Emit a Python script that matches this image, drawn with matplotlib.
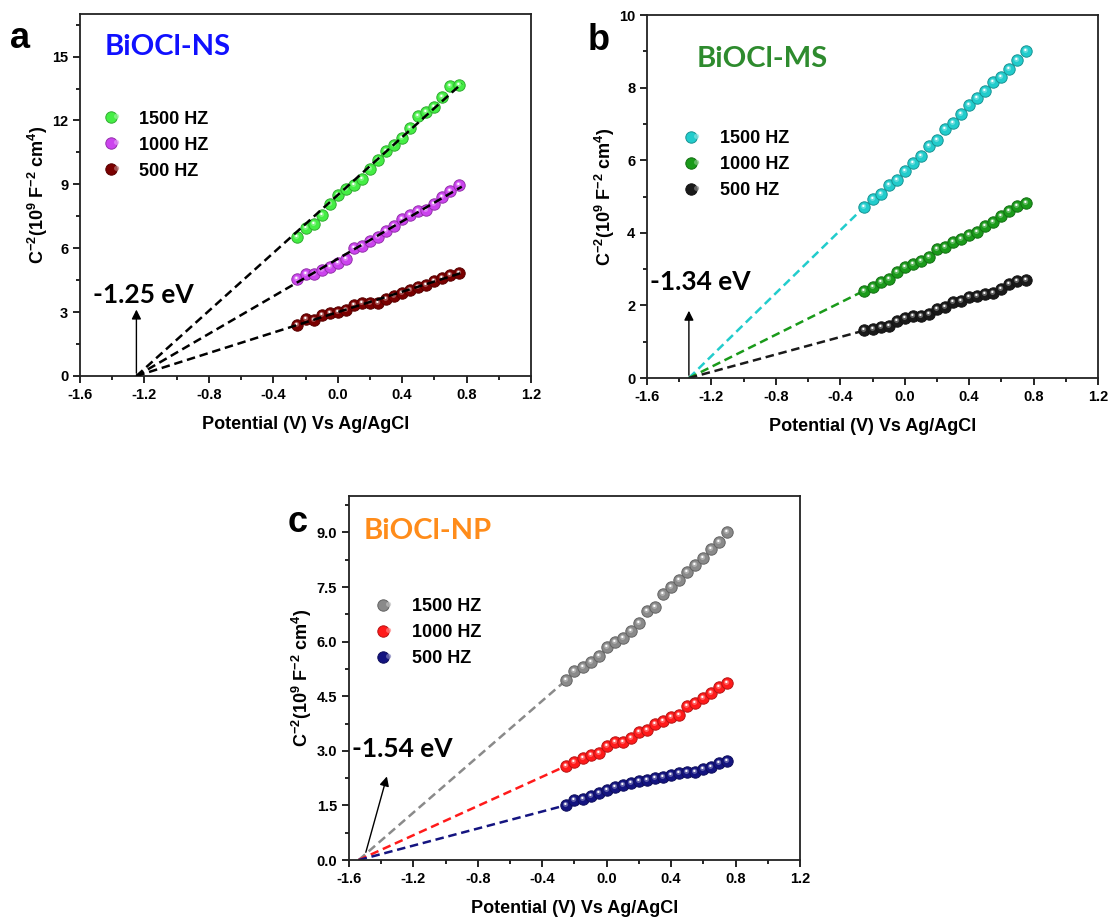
import numpy as np
import matplotlib
matplotlib.use("Agg")
import matplotlib.pyplot as plt
from matplotlib.markers import MarkerStyle
from matplotlib.transforms import Affine2D
from matplotlib.legend_handler import HandlerTuple
from matplotlib.ticker import MultipleLocator, FormatStrFormatter
from matplotlib import colors as mcolors

plt.rcParams['font.family'] = ['Liberation Sans', 'DejaVu Sans']
plt.rcParams['font.weight'] = 'bold'
plt.rcParams['axes.labelweight'] = 'bold'
plt.rcParams['axes.unicode_minus'] = False
plt.rcParams['mathtext.fontset'] = 'custom'
plt.rcParams['mathtext.rm'] = 'Liberation Sans:bold'
plt.rcParams['mathtext.bf'] = 'Liberation Sans:bold'
plt.rcParams['mathtext.it'] = 'Liberation Sans:bold'
plt.rcParams['mathtext.default'] = 'bf'

# potential (V vs Ag/AgCl) of the measured points, same for every curve
potential = [-0.25, -0.20, -0.15, -0.10, -0.05, 0.00, 0.05, 0.10, 0.15, 0.20, 0.25,
             0.30, 0.35, 0.40, 0.45, 0.50, 0.55, 0.60, 0.65, 0.70, 0.75]
freq_labels = ['1500 HZ', '1000 HZ', '500 HZ']

# BiOCl-NS, C^-2 in 1e9 F^-2 cm^4
ns_1500 = [6.55, 6.95, 7.15, 7.58, 8.10, 8.49, 8.77, 8.99, 9.27, 9.74, 10.16,
           10.55, 10.83, 11.17, 11.67, 12.20, 12.39, 12.63, 13.08, 13.60, 13.68]
ns_1000 = [4.55, 4.78, 4.81, 5.00, 5.12, 5.31, 5.51, 6.03, 6.09, 6.34, 6.55,
           6.83, 7.05, 7.35, 7.55, 7.73, 7.80, 8.10, 8.40, 8.69, 8.95]
ns_500 = [2.39, 2.66, 2.62, 2.86, 2.97, 3.02, 3.10, 3.34, 3.42, 3.45, 3.42,
          3.63, 3.75, 3.90, 4.05, 4.16, 4.28, 4.47, 4.60, 4.72, 4.82]
ns_efb = -1.25

# BiOCl-MS
ms_1500 = [4.72, 4.92, 5.08, 5.31, 5.45, 5.70, 5.92, 6.13, 6.38, 6.57, 6.87,
           7.02, 7.26, 7.51, 7.71, 7.92, 8.15, 8.29, 8.50, 8.77, 9.02]
ms_1000 = [2.41, 2.50, 2.64, 2.73, 2.92, 3.05, 3.14, 3.22, 3.33, 3.56, 3.62,
           3.74, 3.83, 3.93, 4.02, 4.18, 4.29, 4.45, 4.60, 4.75, 4.83]
ms_500 = [1.31, 1.35, 1.40, 1.42, 1.58, 1.66, 1.72, 1.72, 1.77, 1.90, 1.97,
          2.09, 2.13, 2.24, 2.27, 2.32, 2.34, 2.46, 2.59, 2.66, 2.70]
ms_efb = -1.34

# BiOCl-NP
np_1500 = [4.95, 5.20, 5.30, 5.45, 5.60, 5.85, 6.00, 6.10, 6.30, 6.50, 6.85,
           6.95, 7.30, 7.50, 7.70, 7.90, 8.10, 8.30, 8.55, 8.75, 9.02]
np_1000 = [2.59, 2.68, 2.80, 2.89, 2.94, 3.12, 3.24, 3.23, 3.35, 3.53, 3.58,
           3.74, 3.81, 3.93, 3.99, 4.22, 4.31, 4.45, 4.58, 4.75, 4.85]
np_500 = [1.51, 1.65, 1.67, 1.76, 1.83, 1.93, 2.00, 2.06, 2.13, 2.16, 2.20,
          2.25, 2.29, 2.34, 2.39, 2.43, 2.43, 2.50, 2.55, 2.66, 2.73]
np_efb = -1.54


def balls(ax, x, y, color, ms=8.2):
    """Shaded 'sphere' markers: base disc + lighter spot + white glint."""
    rgb = np.array(mcolors.to_rgb(color))
    edge = rgb * 0.72
    light = rgb + (1 - rgb) * 0.45
    l1, = ax.plot(x, y, ls='none', marker='o', ms=ms, mfc=color, mec=edge,
                  mew=0.7, zorder=3)
    spot = MarkerStyle('o', transform=Affine2D().scale(0.45).translate(-0.08, 0.1))
    l2, = ax.plot(x, y, ls='none', marker=spot, ms=ms, mfc=light, mec='none',
                  alpha=0.7, zorder=4)
    glint = MarkerStyle('o', transform=Affine2D().scale(0.2).translate(-0.1, 0.14))
    l3, = ax.plot(x, y, ls='none', marker=glint, ms=ms, mfc='white', mec='none',
                  zorder=5)
    return (l1, l2, l3)


def setup(ax, ymax, ymajor, yminor, yfmt):
    ax.set_xlim(-1.6, 1.2)
    ax.set_ylim(0, ymax)
    ax.xaxis.set_major_locator(MultipleLocator(0.4))
    ax.xaxis.set_minor_locator(MultipleLocator(0.2))
    ax.yaxis.set_major_locator(MultipleLocator(ymajor))
    ax.yaxis.set_minor_locator(MultipleLocator(yminor))
    ax.xaxis.set_major_formatter(FormatStrFormatter('%.1f'))
    ax.yaxis.set_major_formatter(FormatStrFormatter(yfmt))
    ax.tick_params(which='both', direction='out', top=False, right=False,
                   width=1.2, labelsize=10.5)
    ax.tick_params(which='major', length=5)
    ax.tick_params(which='minor', length=3)
    for s in ax.spines.values():
        s.set_linewidth(1.3)
        s.set_color('#222222')
    ax.set_xlabel('Potential (V) Vs Ag/AgCl', fontsize=13, labelpad=10)
    ax.set_ylabel(r'C$^{-2}$(10$^{9}$ F$^{-2}$ cm$^{4}$)', fontsize=13, labelpad=1.5)


def add_legend(ax, handles, x, y):
    ax.legend(handles, freq_labels, loc='upper left', bbox_to_anchor=(x, y),
              frameon=False, fontsize=13, borderpad=0, borderaxespad=0,
              handlelength=1.0, handletextpad=0.75, labelspacing=0.5,
              handler_map={tuple: HandlerTuple(ndivide=None)})


def through_intercept(x, y, efb):
    # least-squares slope of a line forced through (efb, 0)
    dx = np.asarray(x) - efb
    return np.sum(dx * np.asarray(y)) / np.sum(dx * dx)


fig = plt.figure(figsize=(11.1, 9.22), dpi=100)
ax_a = fig.add_axes([0.0721, 0.5922, 0.4063, 0.3926])
ax_b = fig.add_axes([0.5829, 0.5900, 0.4063, 0.3937])
ax_c = fig.add_axes([0.3144, 0.0672, 0.4063, 0.3948])

x = np.array(potential)
title_font = dict(family=['Lato', 'DejaVu Sans'], fontweight='bold')

# --- (a) BiOCl-NS: fitted lines drawn through the data in black
setup(ax_a, 17, 3, 1.5, '%d')
h = []
for ys, col in zip([ns_1500, ns_1000, ns_500], ['#44EE44', '#CC44EE', '#7A0000']):
    h.append(balls(ax_a, x, ys, col))
    k = through_intercept(x, ys, ns_efb)
    xf = np.array([ns_efb, 0.77])
    ax_a.plot(xf, k * (xf - ns_efb), color='black', ls=(0, (3.4, 1.9)), lw=1.8, zorder=6)
add_legend(ax_a, h, 0.061, 0.733)
ax_a.text(-1.445, 15.45, 'BiOCl-NS', color='#1010FF', fontsize=21, va='center', **title_font)
ax_a.annotate('', xy=(ns_efb, 3.25), xytext=(ns_efb, 0),
              arrowprops=dict(arrowstyle='-|>', color='black', lw=1.0, mutation_scale=14))
ax_a.text(-1.52, 3.8, '-1.25 eV', fontsize=19, va='center', ha='left', **title_font)

# --- (b) BiOCl-MS: extrapolation from first point down to the axis
setup(ax_b, 10, 2, 1, '%d')
h = []
for ys, col in zip([ms_1500, ms_1000, ms_500], ['#22CCCC', '#1A9A1A', '#1A1A1A']):
    h.append(balls(ax_b, x, ys, col))
    ax_b.plot([ms_efb, x[0]], [0, ys[0]], color=col, ls=(0, (3.4, 1.9)), lw=1.8, zorder=2)
add_legend(ax_b, h, 0.091, 0.683)
ax_b.text(-1.29, 8.8, 'BiOCl-MS', color='#2E8B2E', fontsize=21, va='center', **title_font)
ax_b.annotate('', xy=(ms_efb, 1.93), xytext=(ms_efb, 0),
              arrowprops=dict(arrowstyle='-|>', color='black', lw=1.0, mutation_scale=14))
ax_b.text(-1.58, 2.64, '-1.34 eV', fontsize=19, va='center', ha='left', **title_font)

# --- (c) BiOCl-NP
setup(ax_c, 10, 1.5, 0.75, '%.1f')
h = []
for ys, col in zip([np_1500, np_1000, np_500], ['#8A8A8A', '#FF1A1A', '#141480']):
    h.append(balls(ax_c, x, ys, col))
    ax_c.plot([np_efb, x[0]], [0, ys[0]], color=col, ls=(0, (3.4, 1.9)), lw=1.8, zorder=2)
add_legend(ax_c, h, 0.069, 0.72)
ax_c.text(-1.507, 9.04, 'BiOCl-NP', color='#FF8C1A', fontsize=21, va='center', **title_font)
ax_c.annotate('', xy=(-1.36, 2.37), xytext=(np_efb + 0.04, 0.14),
              arrowprops=dict(arrowstyle='-|>', color='black', lw=1.0, mutation_scale=14))
ax_c.text(-1.58, 3.05, '-1.54 eV', fontsize=19, va='center', ha='left', **title_font)

# panel letters
for letter, px, py in [('a', 0.009, 0.948), ('b', 0.529, 0.946), ('c', 0.259, 0.423)]:
    fig.text(px, py, letter, fontsize=26, fontweight='bold', va='baseline')

fig.savefig('out.png', dpi=100)
